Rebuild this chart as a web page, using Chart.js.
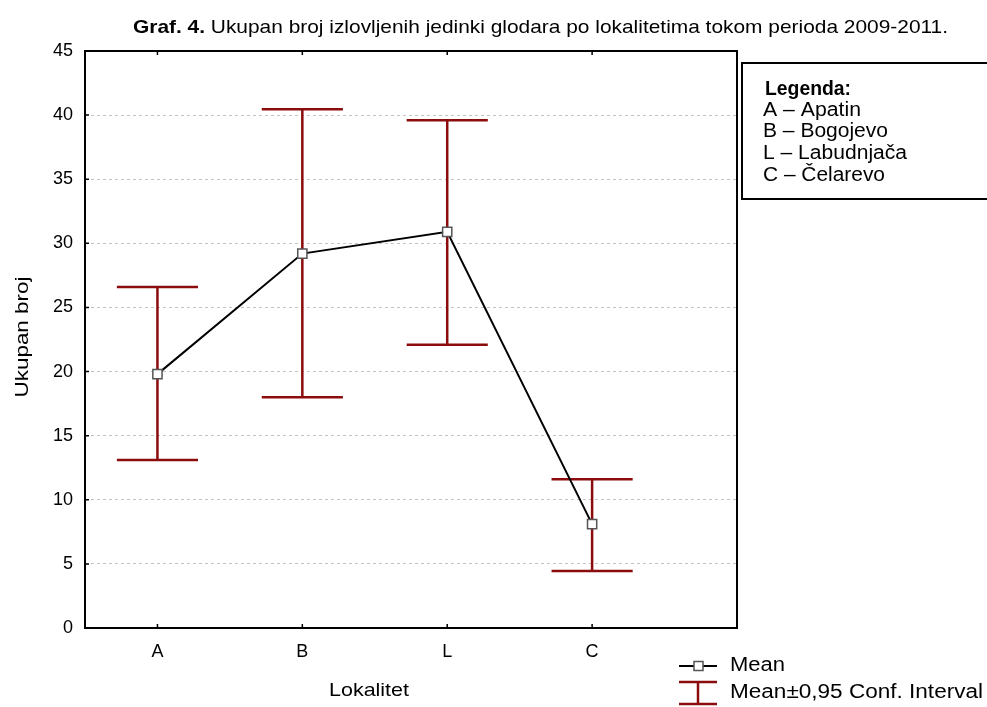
<!DOCTYPE html>
<html>
<head>
<meta charset="utf-8">
<script src="https://cdn.jsdelivr.net/npm/chart.js@4"></script>
<style>
  html, body { margin: 0; padding: 0; background: #fff; }
  canvas { display: block; }
</style>
</head>
<body>
<canvas id="glodari" width="987" height="707"></canvas>
<script>
const categories = ['A', 'B', 'L', 'C'];
const meanValues = [19.8, 29.2, 30.9, 8.1];
const upperCI = [26.6, 40.45, 39.6, 11.6];
const lowerCI = [13.1, 18.0, 22.1, 4.45];
const yTicks = [0, 5, 10, 15, 20, 25, 30, 35, 40, 45];
const legendLines = ['A \u2013 Apatin', 'B \u2013 Bogojevo', 'L \u2013 Labudnja\u010da', 'C \u2013 \u010celarevo'];
const legendWidths = [98, 125, 144, 122];

const FONT = "'Liberation Sans', Arial, sans-serif";
const RED = '#8b0c0c';

// draws text stretched horizontally to a given width
function fitText(ctx, text, x, y, width, align) {
    ctx.save();
    ctx.textAlign = 'left';
    const w = ctx.measureText(text).width;
    const left = align === 'center' ? x - width / 2 : x;
    ctx.translate(left, y);
    ctx.scale(width / w, 1);
    ctx.fillText(text, 0, 0);
    ctx.restore();
}

// error bars, frame, titles and the two legends
const decorations = {
    id: 'decorations',
    beforeDatasetsDraw(chart) {
        const ctx = chart.ctx, xs = chart.scales.x, ys = chart.scales.y;
        const capHalf = (xs.getPixelForValue(1) - xs.getPixelForValue(0)) * 0.28;
        ctx.save();
        ctx.strokeStyle = RED;
        ctx.lineWidth = 2.5;
        categories.forEach((c, i) => {
            const x = xs.getPixelForValue(i);
            const yHi = ys.getPixelForValue(upperCI[i]);
            const yLo = ys.getPixelForValue(lowerCI[i]);
            ctx.beginPath();
            ctx.moveTo(x, yHi); ctx.lineTo(x, yLo);
            ctx.moveTo(x - capHalf, yHi); ctx.lineTo(x + capHalf, yHi);
            ctx.moveTo(x - capHalf, yLo); ctx.lineTo(x + capHalf, yLo);
            ctx.stroke();
        });
        ctx.restore();
    },
    afterDraw(chart) {
        const ctx = chart.ctx, a = chart.chartArea;
        const xs = chart.scales.x, ys = chart.scales.y;
        ctx.save();

        // plot frame with inner ticks
        ctx.strokeStyle = '#000';
        ctx.lineWidth = 2;
        ctx.strokeRect(a.left, a.top, a.right - a.left, a.bottom - a.top);
        ctx.lineWidth = 1.5;
        ctx.beginPath();
        yTicks.forEach(v => {
            const y = ys.getPixelForValue(v);
            ctx.moveTo(a.left, y); ctx.lineTo(a.left + 4, y);
        });
        categories.forEach((c, i) => {
            const x = xs.getPixelForValue(i);
            ctx.moveTo(x, a.bottom); ctx.lineTo(x, a.bottom - 4);
            ctx.moveTo(x, a.top); ctx.lineTo(x, a.top + 4);
        });
        ctx.stroke();

        // title: bold prefix, regular rest, squeezed to width
        const pre = 'Graf. 4.';
        const rest = ' Ukupan broj izlovljenih jedinki glodara po lokalitetima tokom perioda 2009-2011.';
        ctx.fillStyle = '#000';
        ctx.textBaseline = 'middle';
        ctx.textAlign = 'left';
        ctx.font = 'bold 19px ' + FONT;
        const w1 = ctx.measureText(pre).width;
        ctx.font = '19px ' + FONT;
        const w2 = ctx.measureText(rest).width;
        const sx = 815 / (w1 + w2);
        ctx.save();
        ctx.translate(133, 28);
        ctx.scale(sx, 1);
        ctx.font = 'bold 19px ' + FONT;
        ctx.fillText(pre, 0, 0);
        ctx.font = '19px ' + FONT;
        ctx.fillText(rest, w1, 0);
        ctx.restore();

        // axis titles
        ctx.font = '19px ' + FONT;
        fitText(ctx, 'Lokalitet', 369, 691, 80, 'center');
        ctx.save();
        ctx.translate(23, 337);
        ctx.rotate(-Math.PI / 2);
        fitText(ctx, 'Ukupan broj', 0, 0, 121, 'center');
        ctx.restore();

        // location key box
        ctx.lineWidth = 2;
        ctx.strokeRect(742, 63, 260, 136);
        ctx.font = 'bold 20px ' + FONT;
        fitText(ctx, 'Legenda:', 765, 89, 86, 'left');
        ctx.font = '20px ' + FONT;
        legendLines.forEach((t, i) => fitText(ctx, t, 763, 110 + i * 21.7, legendWidths[i], 'left'));

        // series legend
        ctx.strokeStyle = '#000';
        ctx.lineWidth = 2;
        ctx.beginPath();
        ctx.moveTo(679, 666); ctx.lineTo(717, 666);
        ctx.stroke();
        ctx.fillStyle = '#fff';
        ctx.fillRect(694, 661.5, 9, 9);
        ctx.strokeStyle = '#555';
        ctx.lineWidth = 1.5;
        ctx.strokeRect(694, 661.5, 9, 9);
        ctx.strokeStyle = RED;
        ctx.lineWidth = 2.5;
        ctx.beginPath();
        ctx.moveTo(679, 682); ctx.lineTo(717, 682);
        ctx.moveTo(679, 704); ctx.lineTo(717, 704);
        ctx.moveTo(698, 682); ctx.lineTo(698, 704);
        ctx.stroke();
        ctx.fillStyle = '#000';
        ctx.font = '20px ' + FONT;
        fitText(ctx, 'Mean', 730, 665, 55, 'left');
        fitText(ctx, 'Mean\u00b10,95 Conf. Interval', 730, 692, 253, 'left');

        ctx.restore();
    }
};

const ctx = document.getElementById('glodari').getContext('2d');
new Chart(ctx, {
    type: 'line',
    data: {
        datasets: [{
            label: 'Mean',
            data: meanValues.map((v, i) => ({ x: i, y: v })),
            borderColor: '#000',
            borderWidth: 2,
            pointStyle: 'rect',
            pointRadius: 6.5,
            pointBackgroundColor: '#fff',
            pointBorderColor: '#555',
            pointBorderWidth: 1.5,
            tension: 0
        }]
    },
    options: {
        responsive: false,
        animation: false,
        devicePixelRatio: 1,
        layout: { padding: { top: 51, right: 250, left: 0, bottom: 0 } },
        plugins: { legend: { display: false }, tooltip: { enabled: false }, title: { display: false } },
        scales: {
            x: {
                type: 'linear',
                min: -0.5,
                max: 4,
                afterBuildTicks: s => { s.ticks = categories.map((c, i) => ({ value: i })); },
                afterFit: s => { s.height = 79; },
                grid: { display: false, drawTicks: false },
                border: { display: false },
                ticks: {
                    callback: v => categories[v] ?? '',
                    color: '#000',
                    padding: 13,
                    maxRotation: 0,
                    font: { family: FONT, size: 18 }
                }
            },
            y: {
                min: 0,
                max: 45,
                afterBuildTicks: s => { s.ticks = yTicks.map(v => ({ value: v })); },
                afterFit: s => { s.width = 85; },
                grid: { color: '#c4c4c4', lineWidth: 1, drawTicks: false },
                border: { display: false, dash: [3, 3] },
                ticks: {
                    color: '#000',
                    padding: 12,
                    font: { family: FONT, size: 18 }
                }
            }
        }
    },
    plugins: [decorations]
});
</script>
</body>
</html>
